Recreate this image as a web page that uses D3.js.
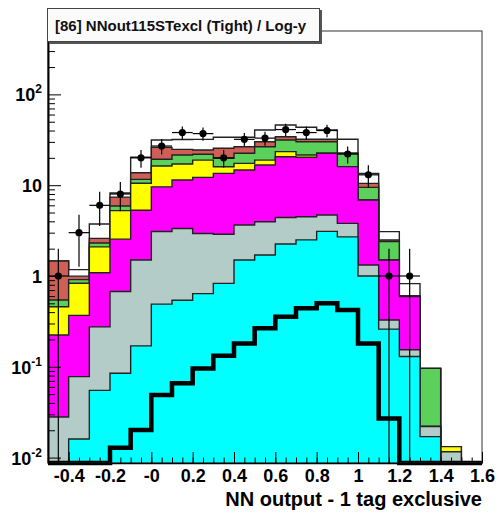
<!DOCTYPE html>
<html>
<head>
<meta charset="utf-8">
<script src="https://cdn.jsdelivr.net/npm/d3@7/dist/d3.min.js"></script>
<style>
	body { margin: 0; background: #fff; }
	svg { display: block; font-family: 'Liberation Sans', Arial, sans-serif; font-weight: bold; }
</style>
</head>
<body>
<svg id="chart" width="499" height="517"></svg>
<script>
(function() {

	// 21 bins of NN output
	var binEdges = [-0.5, -0.4, -0.3, -0.2, -0.1, 0, 0.1, 0.2, 0.3, 0.4, 0.5, 0.6, 0.7, 0.8, 0.9, 1.0, 1.1, 1.2, 1.3, 1.4, 1.5, 1.6];

	// background components, stacked bottom to top
	var cyanBkg    = [0, 0.016, 0.055, 0.085, 0.17, 0.49, 0.54, 0.64, 0.83, 1.5, 1.7, 2.25, 2.5, 3.1, 2.7, 1.0, 0.26, 0.13, 0.017, 0, 0];
	var grayBkg    = [0.028, 0.062, 0.22, 0.59, 1.33, 2.6, 2.8, 2.3, 2.05, 2.15, 2.25, 2.15, 2.0, 1.6, 1.1, 0.32, 0.068, 0.024, 0.005, 0.0116, 0];
	var magentaBkg = [0.196, 0.29, 0.81, 1.87, 3.8, 6.5, 8.05, 9.25, 10.6, 11.05, 12.75, 16.2, 15.8, 17.8, 12.2, 5.55, 1.17, 0.44, 0, 0, 0];
	var yellowBkg  = [0.235, 0.465, 1.01, 2.7, 5.2, 6.7, 5.7, 6.7, 2.5, 2.7, 2.2, 2.8, 1.2, 0, 0, 0, 0, 0, 0, 0.0016, 0];
	var greenBkg   = [0.085, 0.078, 0.21, 0.65, 1.1, 3.0, 4.4, 3.0, 3.8, 5.1, 7.6, 8.1, 8.6, 7.6, 6.5, 2.6, 0.89, 0.01, 0.074, 0, 0];
	var redBkg     = [0.92, 0.085, 0.29, 1.5, 2.1, 6.8, 3.3, 2.5, 5.7, 4.0, 3.6, 2.7, 1.9, 1.9, 0, 1.0, 0.1, 0, 0, 0, 0];
	var whiteBkg   = [0, 0.18, 1.14, 0.8, 6.6, 5.4, 7.1, 7.6, 8.2, 7.2, 10.4, 11.8, 11.4, 8.5, 9.5, 3.0, 0.59, 0.22, 0, 0, 0];

	var signal = [0, 0, 0, 0.0128, 0.0201, 0.049, 0.066, 0.096, 0.132, 0.181, 0.265, 0.356, 0.441, 0.50, 0.422, 0.181, 0.027, 0, 0, 0, 0];
	var dataCounts = [1, 3, 6, 8, 20, 27, 38, 37, 20, 32, 33, 41, 38, 40, 22, 13, 1, 1, 0, 0, 0];

	var xTickValues = [-0.4, -0.2, 0, 0.2, 0.4, 0.6, 0.8, 1.0, 1.2, 1.4, 1.6];
	var xTickLabels = ['-0.4', '-0.2', '-0', '0.2', '0.4', '0.6', '0.8', '1', '1.2', '1.4', '1.6'];
	var yTickValues = [0.01, 0.1, 1, 10, 100];
	var yTickLabels = [['10', '-2'], ['10', '-1'], ['1', ''], ['10', ''], ['10', '2']];

	var titleText = '[86] NNout115STexcl (Tight) / Log-y';
	var xTitle = 'NN output - 1 tag exclusive';

	var FRAME_LEFT = 48, FRAME_RIGHT = 482, FRAME_TOP = 31, FRAME_BOTTOM = 463;
	var Y_MIN = 0.00872, Y_MAX = 499;

	var layers = [
		{key: 'cyan', values: cyanBkg, color: '#00ffff'},
		{key: 'gray', values: grayBkg, color: '#b3ccc7'},
		{key: 'magenta', values: magentaBkg, color: '#ff00ff'},
		{key: 'yellow', values: yellowBkg, color: '#ffff00'},
		{key: 'green', values: greenBkg, color: '#5bd05b'},
		{key: 'red', values: redBkg, color: '#cd5f56'},
		{key: 'white', values: whiteBkg, color: '#ffffff'}
	];

	var svg = d3.select('#chart');
	var x = d3.scaleLinear().domain([binEdges[0], binEdges[binEdges.length - 1]]).range([FRAME_LEFT, FRAME_RIGHT]);
	var y = d3.scaleLog().domain([Y_MIN, Y_MAX]).range([FRAME_BOTTOM, FRAME_TOP]);

	function yClamp(v) { return y(Math.max(v, Y_MIN)); }

	function stepPoints(values) {
		var pts = [[x(binEdges[0]), FRAME_BOTTOM]];
		values.forEach(function(v, i) {
			pts.push([x(binEdges[i]), yClamp(v)]);
			pts.push([x(binEdges[i + 1]), yClamp(v)]);
		});
		pts.push([x(binEdges[binEdges.length - 1]), FRAME_BOTTOM]);
		return pts;
	}

	var line = d3.line();

	svg.append('clipPath').attr('id', 'frame-clip')
		.append('rect')
		.attr('x', FRAME_LEFT).attr('y', FRAME_TOP)
		.attr('width', FRAME_RIGHT - FRAME_LEFT).attr('height', FRAME_BOTTOM - FRAME_TOP);

	// stack the backgrounds, draw the biggest sum first like THStack does
	var rows = dataCounts.map(function(d, i) {
		var row = {};
		layers.forEach(function(l) { row[l.key] = l.values[i]; });
		return row;
	});
	var stacked = d3.stack().keys(layers.map(function(l) { return l.key; }))(rows);

	var histG = svg.append('g').attr('clip-path', 'url(#frame-clip)');
	for (var k = stacked.length - 1; k >= 0; k--) {
		var tops = stacked[k].map(function(d) { return d[1]; });
		var pts = stepPoints(tops);
		histG.append('path')
			.attr('d', line(pts) + 'Z')
			.attr('fill', layers[k].color)
			.attr('stroke', 'none');
		histG.append('path')
			.attr('d', line(pts))
			.attr('fill', 'none')
			.attr('stroke', '#222')
			.attr('stroke-width', 1.4);
	}

	// signal, thick black line
	svg.append('path')
		.attr('d', line(stepPoints(signal)))
		.attr('fill', 'none')
		.attr('stroke', '#000')
		.attr('stroke-width', 4.5)
		.attr('stroke-linejoin', 'miter');

	// frame
	svg.append('rect')
		.attr('x', FRAME_LEFT).attr('y', FRAME_TOP)
		.attr('width', FRAME_RIGHT - FRAME_LEFT).attr('height', FRAME_BOTTOM - FRAME_TOP)
		.attr('fill', 'none')
		.attr('stroke', '#333')
		.attr('stroke-width', 1);

	// data points with poisson errors
	var dataG = svg.append('g');
	dataCounts.forEach(function(n, i) {
		if (n <= 0) return;
		var cx = x((binEdges[i] + binEdges[i + 1]) / 2);
		var err = Math.sqrt(n);
		dataG.append('line')
			.attr('x1', cx).attr('x2', cx)
			.attr('y1', y(n + err)).attr('y2', yClamp(n - err))
			.attr('stroke', '#000').attr('stroke-width', 1.2);
		dataG.append('line')
			.attr('x1', x(binEdges[i])).attr('x2', x(binEdges[i + 1]))
			.attr('y1', y(n)).attr('y2', y(n))
			.attr('stroke', '#000').attr('stroke-width', 1.2);
		dataG.append('circle')
			.attr('cx', cx).attr('cy', y(n)).attr('r', 3.6)
			.attr('fill', '#000');
	});

	// x axis
	var minorX = d3.range(0, 43).map(function(i) { return -0.5 + i * 0.05; });
	svg.append('g')
		.attr('transform', 'translate(0,' + FRAME_BOTTOM + ')')
		.call(d3.axisBottom(x).tickValues(minorX).tickSize(-5.5).tickSizeOuter(0).tickFormat(''))
		.call(function(g) { g.select('.domain').remove(); });
	var xAxis = svg.append('g')
		.attr('transform', 'translate(0,' + FRAME_BOTTOM + ')')
		.call(d3.axisBottom(x).tickValues(xTickValues).tickSize(-11).tickSizeOuter(0).tickPadding(6)
			.tickFormat(function(d, i) { return xTickLabels[i]; }));
	xAxis.select('.domain').attr('stroke', '#000').attr('stroke-width', 1.5);
	xAxis.selectAll('text').attr('font-size', 18).attr('font-family', null).attr('fill', '#000');
	svg.selectAll('.tick line').attr('stroke', '#000');

	// y axis
	var minorY = [];
	[0.001, 0.01, 0.1, 1, 10, 100].forEach(function(dec) {
		for (var m = 2; m <= 9; m++) {
			var v = dec * m;
			if (v > Y_MIN && v < Y_MAX) minorY.push(v);
		}
	});
	svg.append('g')
		.attr('transform', 'translate(' + FRAME_LEFT + ',0)')
		.call(d3.axisLeft(y).tickValues(minorY).tickSize(-7).tickSizeOuter(0).tickFormat(''))
		.call(function(g) { g.select('.domain').remove(); g.selectAll('line').attr('stroke', '#000'); });
	var yAxis = svg.append('g')
		.attr('transform', 'translate(' + FRAME_LEFT + ',0)')
		.call(d3.axisLeft(y).tickValues(yTickValues).tickSize(-13).tickSizeOuter(0).tickFormat(''));
	yAxis.select('.domain').attr('stroke', '#000').attr('stroke-width', 2);
	yAxis.selectAll('line').attr('stroke', '#000');

	yTickValues.forEach(function(v, i) {
		var t = svg.append('text')
			.attr('x', 42)
			.attr('y', y(v) + 7)
			.attr('text-anchor', 'end')
			.attr('font-size', 18)
			.attr('fill', '#000');
		t.append('tspan').text(yTickLabels[i][0]);
		if (yTickLabels[i][1]) {
			t.append('tspan')
				.attr('font-size', 12)
				.attr('dy', -8)
				.text(yTickLabels[i][1]);
		}
	});

	// axis title
	svg.append('text')
		.attr('x', FRAME_RIGHT)
		.attr('y', 506)
		.attr('text-anchor', 'end')
		.attr('font-size', 20)
		.attr('fill', '#000')
		.text(xTitle);

	// title box with shadow
	svg.append('rect')
		.attr('x', 49).attr('y', 10).attr('width', 273).attr('height', 34)
		.attr('fill', '#555');
	svg.append('rect')
		.attr('x', 47.5).attr('y', 8.5).attr('width', 272).attr('height', 33)
		.attr('fill', '#fbfbfb')
		.attr('stroke', '#444')
		.attr('stroke-width', 1);
	svg.append('text')
		.attr('x', 55)
		.attr('y', 31)
		.attr('font-size', 15)
		.attr('fill', '#111')
		.text(titleText);
}());
</script>
</body>
</html>
